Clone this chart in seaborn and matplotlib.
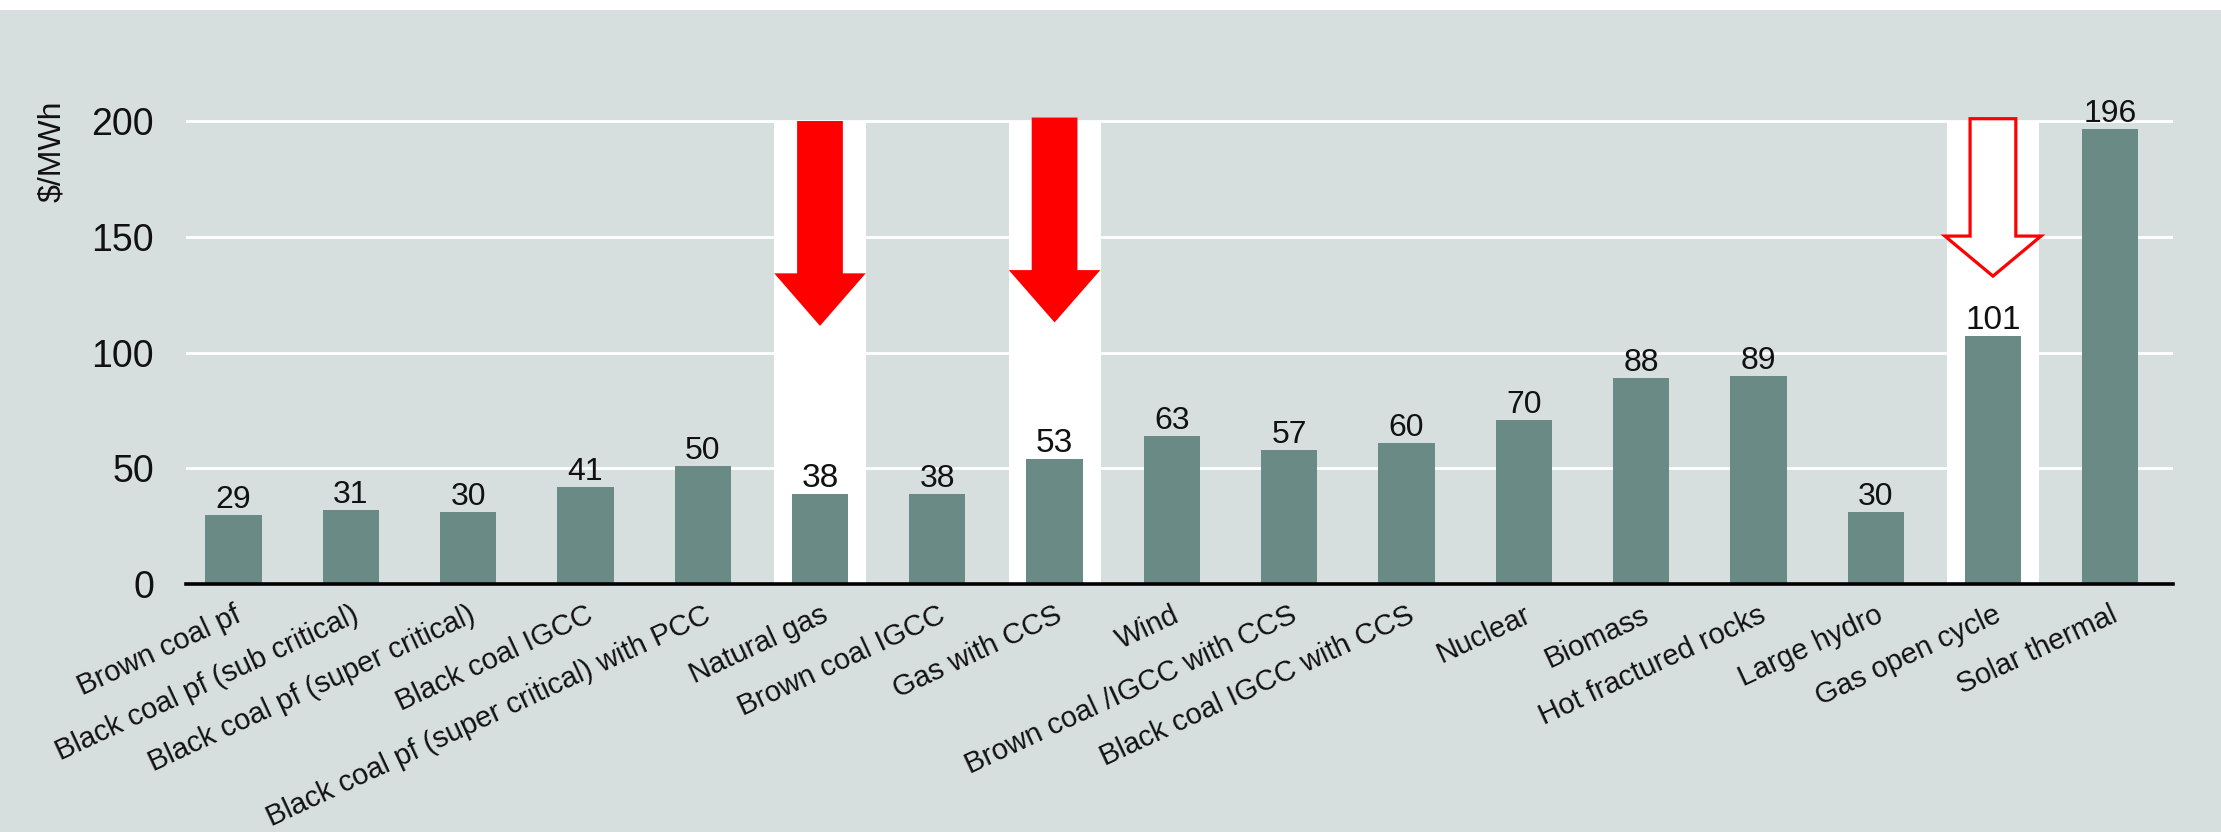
import matplotlib
matplotlib.use("Agg")
import matplotlib.pyplot as plt
import seaborn as sns
import pandas as pd
from matplotlib import font_manager as fm
from matplotlib import transforms as mtrans
from matplotlib.patches import FancyArrow, Rectangle

# ---------------- data ----------------
categories = [
    "Brown coal pf",
    "Black coal pf (sub critical)",
    "Black coal pf (super critical)",
    "Black coal IGCC",
    "Black coal pf (super critical) with PCC",
    "Natural gas",
    "Brown coal IGCC",
    "Gas with CCS",
    "Wind",
    "Brown coal /IGCC with CCS",
    "Black coal IGCC with CCS",
    "Nuclear",
    "Biomass",
    "Hot fractured rocks",
    "Large hydro",
    "Gas open cycle",
    "Solar thermal",
]
bar_heights = [30, 32, 31, 42, 51, 39, 39, 54, 64, 58, 61, 71, 89, 90, 31, 107, 196.5]
value_labels = [29, 31, 30, 41, 50, 38, 38, 53, 63, 57, 60, 70, 88, 89, 30, 101, 196]
highlighted = ["Natural gas", "Gas with CCS", "Gas open cycle"]

arrow_categories = ["Natural gas", "Gas with CCS", "Gas open cycle"]
arrow_tops = [200.0, 201.5, 201.0]
arrow_tips = [111.5, 113.0, 133.0]
arrow_head_lengths = [22.7, 22.6, 17.3]
arrow_filled = [True, True, False]

y_ticks = [0, 50, 100, 150, 200]
y_label = "\\$/MWh"

# ---------------- style ----------------
BG = "#d7dfde"
BAR = "#6a8b85"
RED = "#ff0000"
TXT = "#111111"

names = {f.name for f in fm.fontManager.ttflist}
if "Liberation Sans Narrow" in names:
    COND = dict(family="Liberation Sans Narrow")
    NARROW = True
else:
    COND = dict(family="Liberation Sans" if "Liberation Sans" in names else "DejaVu Sans")
    NARROW = False
REG = dict(family="Liberation Sans" if "Liberation Sans" in names else "DejaVu Sans")

FS_XT = 24 if NARROW else 21
FS_YT = 31 if NARROW else 27
FS_VAL = 25 if NARROW else 23
FS_VAL_HI = 24
FS_YL = 28 if NARROW else 23

W, H, DPI = 2221, 832, 100
fig = plt.figure(figsize=(W / DPI, H / DPI), dpi=DPI, facecolor=BG)
fig.patches.append(Rectangle((0, 1 - 10 / H), 1, 10 / H, transform=fig.transFigure,
                             facecolor="white", edgecolor="none", zorder=0))

ax_left, ax_right, ax_bottom, ax_top = 186, 2173, 584, 118.7
ax = fig.add_axes([ax_left / W, (H - ax_bottom) / H, (ax_right - ax_left) / W,
                   (ax_bottom - ax_top) / H])
ax.set_facecolor(BG)

df = pd.DataFrame({"category": categories, "height": bar_heights})
sns.barplot(data=df, x="category", y="height", color=BAR, saturation=1,
            width=0.48, ax=ax, zorder=2)
for p in ax.patches:
    p.set_zorder(2)
    p.set_edgecolor("none")

n = len(categories)
ax.set_xlim(-0.405, n - 1 + 0.535)
ax.set_ylim(0, 201)

# highlight bands
for cat in highlighted:
    i = categories.index(cat)
    ax.axvspan(i - 0.39, i + 0.395, ymin=0, ymax=200 / 201, facecolor="white",
               edgecolor="none", zorder=1)

# arrows
for cat, top, tip, hl, filled in zip(arrow_categories, arrow_tops, arrow_tips,
                                      arrow_head_lengths, arrow_filled):
    i = categories.index(cat)
    if filled:
        arr = FancyArrow(i, top, 0, tip - top, width=0.39, head_width=0.78,
                         head_length=hl, length_includes_head=True,
                         facecolor=RED, edgecolor="none", zorder=4, clip_on=False)
    else:
        arr = FancyArrow(i, top, 0, tip - top, width=0.39, head_width=0.82,
                         head_length=hl, length_includes_head=True,
                         facecolor="white", edgecolor=RED, linewidth=2.3,
                         joinstyle="miter", zorder=4, clip_on=False)
    ax.add_patch(arr)

# value labels
for i, (cat, h, v) in enumerate(zip(categories, bar_heights, value_labels)):
    if cat in highlighted:
        fp, fs = REG, FS_VAL_HI
    else:
        fp, fs = COND, FS_VAL
    ax.annotate(str(v), (i, h), xytext=(0, 5), textcoords="offset points",
                ha="center", va="baseline", fontsize=fs, color=TXT,
                zorder=5, **fp)

# axes styling
ax.set_xlabel("")
ax.set_ylabel("")
ax.set_yticks(y_ticks)
ax.set_yticklabels([str(t) for t in y_ticks], fontsize=FS_YT, color=TXT, **COND)
ax.set_xticks(range(n))
ax.set_xticklabels(categories, rotation=25, ha="right", rotation_mode="anchor",
                   fontsize=FS_XT, color=TXT, **COND)
offset = mtrans.ScaledTranslation(12 / DPI, 0, fig.dpi_scale_trans)
for lbl in ax.get_xticklabels():
    lbl.set_transform(lbl.get_transform() + offset)
ax.tick_params(axis="x", length=0, pad=12)
ax.tick_params(axis="y", length=0, pad=23)

for s in ["left", "right", "top"]:
    ax.spines[s].set_visible(False)
ax.spines["bottom"].set_color("black")
ax.spines["bottom"].set_linewidth(2.6)
ax.spines["bottom"].set_zorder(3)

ax.set_axisbelow(True)
ax.yaxis.grid(True, color="white", linewidth=2)
ax.xaxis.grid(False)

fig.text(52 / W, 1 - 151 / H, y_label, rotation=90, ha="center", va="center",
         fontsize=FS_YL, color=TXT, **COND)

fig.savefig("out.png", dpi=DPI, facecolor=BG)
